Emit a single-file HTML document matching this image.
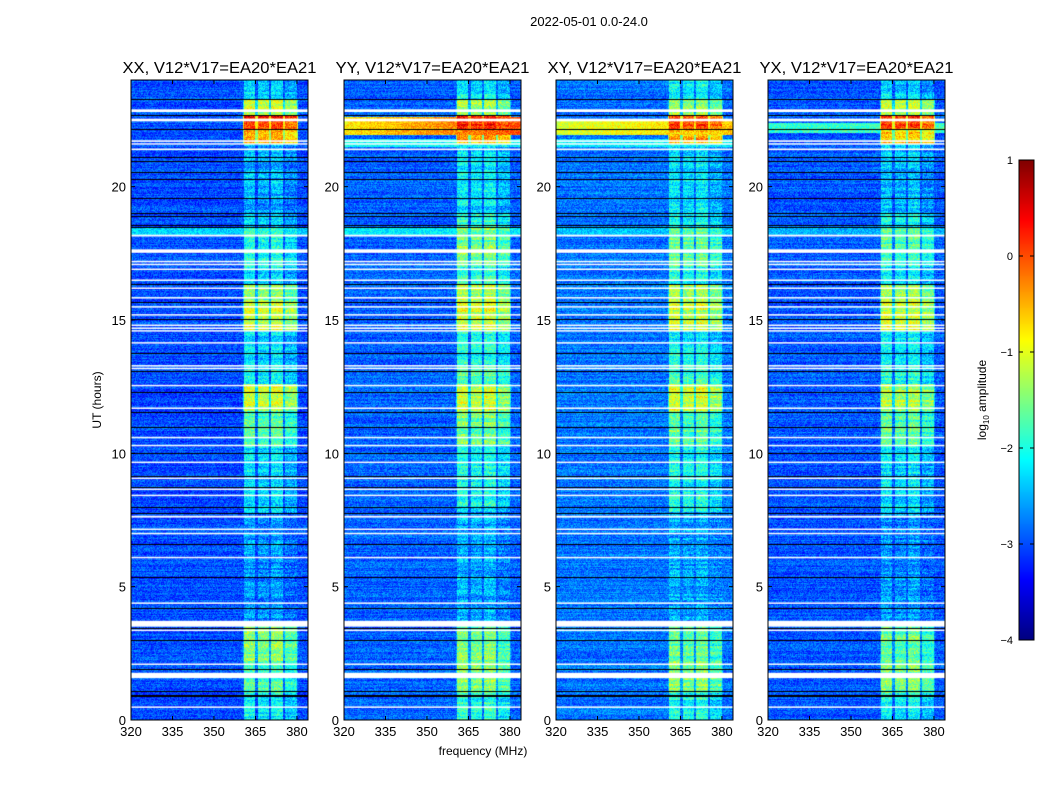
<!DOCTYPE html>
<html><head><meta charset="utf-8"><style>
body{margin:0;background:#fff;width:1050px;height:800px;overflow:hidden;position:relative;font-family:"Liberation Sans",sans-serif}
canvas{position:absolute}
svg{position:absolute;left:0;top:0}
</style></head><body>
<div style="position:absolute;left:0;top:0;width:1050px;height:800px">
<canvas id="c0" width="177" height="640" style="left:131px;top:80px"></canvas>
<canvas id="c1" width="177" height="640" style="left:344px;top:80px"></canvas>
<canvas id="c2" width="177" height="640" style="left:556px;top:80px"></canvas>
<canvas id="c3" width="177" height="640" style="left:768px;top:80px"></canvas>
<canvas id="cb" width="15" height="480" style="left:1019px;top:160px"></canvas>
<svg id="ov" width="1050" height="800"></svg>
</div>
<script>
// ---- data ----
const panelTitles = ["XX, V12*V17=EA20*EA21","YY, V12*V17=EA20*EA21","XY, V12*V17=EA20*EA21","YX, V12*V17=EA20*EA21"];
const panelLefts = [131,344,556,768];
const xTicks = [320,335,350,365,380];
const yTicks = [0,5,10,15,20];
const cbTicks = [1,0,-1,-2,-3,-4];
const bgLevels = [-3.0,-2.9,-2.8,-2.95];
const segBounds = [24,23.3,22.7,22.15,21.6,19.0,18.5,17.0,16.3,15.7,14.6,13.3,12.6,11.6,10.3,7.8,3.6,2.2,1.0,0];
const bandXX = [-2.3,-1.1,0.3,-0.3,-2.5,-2.2,-1.9,-2.2,-1.3,-1.1,-2.2,-2.0,-1.1,-1.7,-2.2,-2.6,-1.4,-1.7,-2.1];
const bandYY = [-2.1,-1.3,0.2,-0.5,-2.2,-1.9,-1.5,-1.9,-1.2,-1.0,-2.0,-1.7,-1.1,-1.5,-2.0,-2.5,-1.5,-1.4,-1.9];
const bandXY = [-2.1,-1.3,0.1,-0.5,-2.2,-2.0,-1.6,-2.0,-1.2,-1.1,-2.1,-1.8,-1.0,-1.6,-2.0,-2.5,-1.6,-1.4,-2.0];
const bandYX = [-2.3,-1.2,0.1,-0.6,-2.4,-2.1,-1.7,-2.1,-1.3,-1.1,-2.2,-1.9,-1.2,-1.7,-2.2,-2.6,-1.6,-1.5,-2.0];
const bandLo = [361,366,370.7,375.7];
const bandHi = [365,370,375,380];
const bandOffset = [0,-0.1,0,-0.3];
// broadband strips: [start hour, end hour, level at 320MHz, level at 384MHz]
const stripsXX = [[18.2,18.5,-2.3,-2.4]];
const stripsYY = [[21.95,22.6,-0.8,0.0],[21.5,21.8,-2.1,-2.1],[18.2,18.5,-2.2,-2.2]];
const stripsXY = [[21.95,22.55,-1.1,-0.6],[21.5,21.8,-2.2,-2.1],[18.2,18.5,-2.4,-2.4]];
const stripsYX = [[22.0,22.4,-1.9,-1.8],[18.2,18.5,-2.5,-2.5]];
const whiteRows = [[22.8,22.9],[22.45,22.55],[21.68,21.74],[21.58,21.63],[21.37,21.43],[18.13,18.2],[17.52,17.65],[17.18,17.22],[17.07,17.11],[16.88,16.93],[16.47,16.52],[16.17,16.22],[15.81,15.86],[15.47,15.52],[15.17,15.22],[14.78,14.83],[14.68,14.72],[14.57,14.62],[14.12,14.17],[13.27,13.31],[13.17,13.21],[12.52,12.57],[11.67,11.72],[10.57,10.62],[10.27,10.32],[9.65,9.69],[9.05,9.09],[8.64,8.68],[8.41,8.45],[7.59,7.66],[7.14,7.18],[6.98,7.02],[6.08,6.12],[4.37,4.41],[3.5,3.72],[3.35,3.39],[2.08,2.12],[1.57,1.77],[0.47,0.51]];
const blackRows = [23.3,22.7,22.15,21.1,20.96,20.55,20.3,19.57,19.0,18.9,18.55,18.5,16.35,15.67,15.03,13.77,13.08,12.3,11.56,11.0,10.0,9.15,8.73,7.98,7.76,6.6,5.36,4.2,3.45,3.0,1.91,1.1,0.95,0.9];
const bandSets=[bandXX,bandYY,bandXY,bandYX];
const stripSets=[stripsXX,stripsYY,stripsXY,stripsYX];

// ---- scales ----
const W=177,H=640,FMIN=320,FMAX=384,TMAX=24;
const xPix=f=>(f-FMIN)/(FMAX-FMIN)*W;
const yPix=t=>H-t/TMAX*H;
const fOf=px=>FMIN+(px+0.5)/W*(FMAX-FMIN);
const tOf=py=>(H-py-0.5)/H*TMAX;
const VMIN=-4,VMAX=1;
function jet(v){let t=(v-VMIN)/(VMAX-VMIN);t=Math.max(0,Math.min(1,t));
 const r=Math.max(0,Math.min(1,1.5-Math.abs(4*t-3))),g=Math.max(0,Math.min(1,1.5-Math.abs(4*t-2))),b=Math.max(0,Math.min(1,1.5-Math.abs(4*t-1)));
 return [r*255|0,g*255|0,b*255|0];}
function hash(a,b,c){let h=(a*374761393+b*668265263+c*2147483647)|0;h=(h^(h>>>13))*1274126177|0;h=h^(h>>>16);return ((h>>>0)%10000)/5000-1;}
function segLevel(arr,t){for(let i=0;i<segBounds.length-1;i++){if(t<=segBounds[i]&&t>segBounds[i+1])return arr[i];}return arr[arr.length-1];}

for(let p=0;p<4;p++){
 const cv=document.getElementById('c'+p),ctx=cv.getContext('2d'),img=ctx.createImageData(W,H);
 for(let py=0;py<H;py++){const t=tOf(py);const bl=segLevel(bandSets[p],t);
  let strip=null;for(const s of stripSets[p]){if(t>=s[0]&&t<=s[1])strip=s;}
  const rowN=hash(py,p,7)*0.15;
  const rowB=hash(py>>1,p,11)*0.25;
  for(let px=0;px<W;px++){const f=fOf(px);
   let v=bgLevels[p]+rowN;
   if(strip)v=strip[2]+(strip[3]-strip[2])*(f-FMIN)/(FMAX-FMIN);
   let inBand=false;
   if(f>360.5&&f<380.5)v=Math.max(v,bl-1.1);
   for(let b=0;b<4;b++){if(f>=bandLo[b]&&f<=bandHi[b]){v=Math.max(v,bl+bandOffset[b]+rowB);inBand=true;}}
   v+=hash(px,py,p+1)*(inBand?0.4:0.32);
   const c=jet(v),k=(py*W+px)*4;img.data[k]=c[0];img.data[k+1]=c[1];img.data[k+2]=c[2];img.data[k+3]=255;}}
 ctx.putImageData(img,0,0);
 ctx.fillStyle='#fff';for(const r of whiteRows){const y0=yPix(r[1]),y1=yPix(r[0]);ctx.fillRect(0,y0,W,Math.max(1.5,y1-y0));}
 ctx.fillStyle='#000';for(const r of blackRows){ctx.fillRect(0,Math.round(yPix(r)),W,1);}
}
{const cv=document.getElementById('cb'),ctx=cv.getContext('2d');
 for(let y=0;y<480;y++){const v=VMAX-(y+0.5)/480*(VMAX-VMIN);const c=jet(v);ctx.fillStyle=`rgb(${c[0]},${c[1]},${c[2]})`;ctx.fillRect(0,y,15,1);}}

// ---- axes overlay ----
const ov=document.getElementById('ov'),NS='http://www.w3.org/2000/svg';
function mk(tag,attrs,txt){const e=document.createElementNS(NS,tag);for(const k in attrs)e.setAttribute(k,attrs[k]);if(txt!==undefined)e.textContent=txt;ov.appendChild(e);return e;}
let e;
e=mk('text',{x:589,y:26,'font-size':13,'text-anchor':'middle',fill:'#000'},'2022-05-01 0.0-24.0');


for(let p=0;p<4;p++){const L=panelLefts[p],T=80;
 e=mk('rect',{x:L,y:T,width:W,height:H,fill:'none',stroke:'#000','stroke-width':1});
 
 
 e=mk('text',{x:L+W/2,y:73,'font-size':16,'text-anchor':'middle',fill:'#000',textLength:194,lengthAdjust:'spacingAndGlyphs'},panelTitles[p]);
 
 
 for(const f of xTicks){const x=L+xPix(f);
  mk('line',{x1:x,y1:T+H,x2:x,y2:T+H-4,stroke:'#000'});mk('line',{x1:x,y1:T,x2:x,y2:T+4,stroke:'#000'});
  e=mk('text',{x:x,y:T+H+16,'font-size':13,'text-anchor':'middle',fill:'#000'},String(f));
  
  }
 for(const t of yTicks){const y=T+yPix(t);
  mk('line',{x1:L,y1:y,x2:L+4,y2:y,stroke:'#000'});mk('line',{x1:L+W,y1:y,x2:L+W-4,y2:y,stroke:'#000'});
  e=mk('text',{x:L-5,y:y+5,'font-size':13,'text-anchor':'end',fill:'#000'},String(t));
  
  }
}
e=mk('text',{x:483,y:755,'font-size':12,'text-anchor':'middle',fill:'#000'},'frequency (MHz)');


e=mk('text',{x:0,y:0,'font-size':12,'text-anchor':'middle',fill:'#000',transform:'translate(101,400) rotate(-90)'},'UT (hours)');


e=mk('rect',{x:1019,y:160,width:15,height:480,fill:'none',stroke:'#000'});


for(const v of cbTicks){const y=160+(VMAX-v)/(VMAX-VMIN)*480;
 mk('line',{x1:1019,y1:y,x2:1023,y2:y,stroke:'#000'});mk('line',{x1:1034,y1:y,x2:1030,y2:y,stroke:'#000'});
 e=mk('text',{x:1013,y:y+4,'font-size':11,'text-anchor':'end',fill:'#000'},v<0?'\u2212'+(-v):String(v));
 
 }
const lab=mk('text',{x:0,y:0,'font-size':12,'text-anchor':'middle',fill:'#000',transform:'translate(986,400) rotate(-90)'});


const s1=document.createElementNS(NS,'tspan');s1.textContent='log';lab.appendChild(s1);
const s2=document.createElementNS(NS,'tspan');s2.setAttribute('font-size','8');s2.setAttribute('dy','3');s2.textContent='10';lab.appendChild(s2);
const s3=document.createElementNS(NS,'tspan');s3.setAttribute('dy','-3');s3.textContent=' amplitude';lab.appendChild(s3);
</script>
</body></html>
